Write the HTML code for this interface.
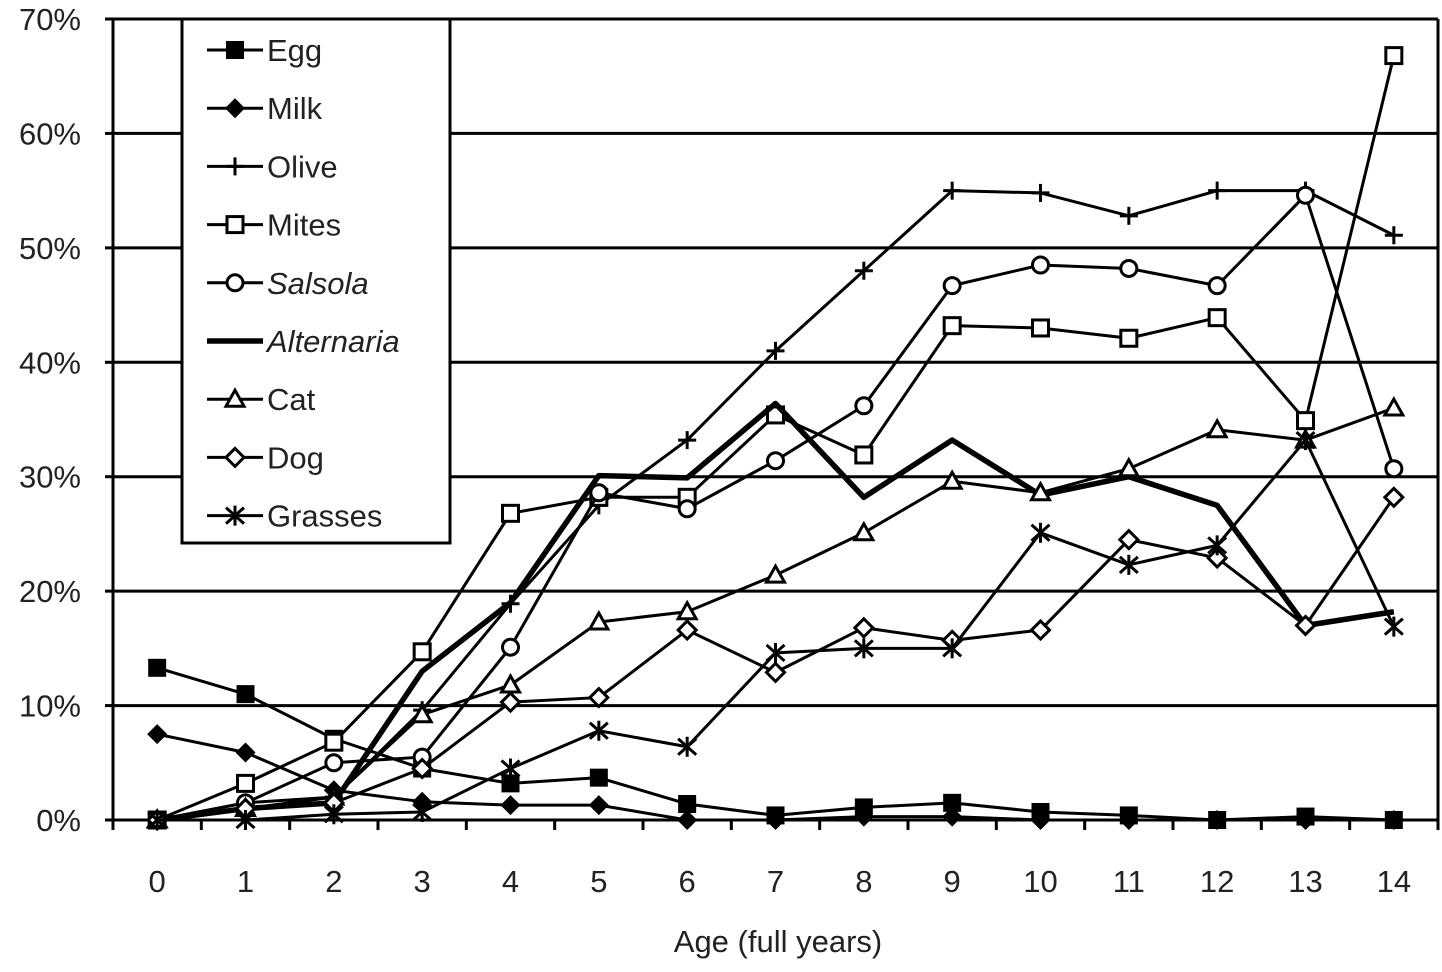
<!DOCTYPE html>
<html><head><meta charset="utf-8"><style>
html,body{margin:0;padding:0;background:#fff;width:1442px;height:972px;overflow:hidden}
svg text{font-family:"Liberation Sans",Arial,sans-serif;fill:#222}
</style></head><body>
<svg id="chart" width="1442" height="972" viewBox="0 0 1442 972" xmlns="http://www.w3.org/2000/svg"></svg>
<script>
const categories=[0,1,2,3,4,5,6,7,8,9,10,11,12,13,14];
const yTicks=[0,10,20,30,40,50,60,70];
const egg=[13.3,11,7.1,4.5,3.2,3.7,1.4,0.4,1.1,1.5,0.7,0.4,0,0.3,0];
const milk=[7.5,5.9,2.6,1.6,1.3,1.3,0,0,0.3,0.3,0,0,0,0,0];
const olive=[0,1.5,2,9.6,18.9,27.5,33.2,41,48,55,54.8,52.8,55,55,51.1];
const mites=[0,3.2,6.8,14.7,26.8,28.2,28.2,35.4,31.9,43.2,43,42.1,43.9,34.9,66.8];
const salsola=[0,1.5,5,5.5,15.1,28.6,27.2,31.4,36.2,46.7,48.5,48.2,46.7,54.6,30.7];
const alternaria=[0,1,1.5,13,19,30.1,29.9,36.4,28.2,33.2,28.4,30,27.5,17,18.2];
const cat=[0,1,2,9.2,11.8,17.3,18.2,21.4,25.1,29.6,28.6,30.7,34.1,33.2,36];
const dog=[0,1,1.5,4.5,10.3,10.7,16.6,12.9,16.8,15.7,16.6,24.5,22.9,17,28.2];
const grasses=[0,0,0.5,0.7,4.5,7.8,6.4,14.6,15,15,25.1,22.3,24,33.2,16.9];
const seriesNames=["Egg","Milk","Olive","Mites","Salsola","Alternaria","Cat","Dog","Grasses"];
const seriesData=[egg,milk,olive,mites,salsola,alternaria,cat,dog,grasses];
const markers=["fsquare","fdiamond","plus","square","circle","none","triangle","diamond","star"];

const L=113,R=1438,T=19,B=820;
const band=(R-L)/categories.length;
const xs=i=>L+band*(i+0.5);
const ys=v=>B-(v/70)*(B-T);
const svg=document.getElementById('chart');
const NS="http://www.w3.org/2000/svg";
function mk(tag,attrs,parent){const e=document.createElementNS(NS,tag);for(const k in attrs)e.setAttribute(k,attrs[k]);(parent||svg).appendChild(e);return e;}

yTicks.forEach(t=>{
  const g=mk('line',{x1:L,x2:R,y1:ys(t),y2:ys(t),stroke:'#000','stroke-width':3});
  
  
  mk('line',{x1:L-8,x2:L,y1:ys(t),y2:ys(t),stroke:'#000','stroke-width':3});
  const tx=mk('text',{x:81,y:ys(t)+11,'text-anchor':'end','font-size':31});
  tx.textContent=t+'%';
  
  
});
const ax=mk('line',{x1:L,x2:L,y1:T,y2:B,stroke:'#000','stroke-width':3});


const rx=mk('line',{x1:R,x2:R,y1:T,y2:B,stroke:'#000','stroke-width':3});


for(let i=0;i<=categories.length;i++){
  mk('line',{x1:L+band*i,x2:L+band*i,y1:B,y2:B+10,stroke:'#000','stroke-width':3});
}
categories.forEach((c,i)=>{
  const tx=mk('text',{x:xs(i),y:892,'text-anchor':'middle','font-size':31});
  tx.textContent=c;
  
  
});
const xt=mk('text',{x:778,y:952,'text-anchor':'middle','font-size':31});
xt.textContent='Age (full years)';



function marker(type,x,y,p){
  const s='#000';
  if(type==='fsquare')mk('rect',{x:x-9,y:y-9,width:18,height:18,fill:s},p);
  else if(type==='square')mk('rect',{x:x-8,y:y-8,width:16,height:16,fill:'#fff',stroke:s,'stroke-width':3},p);
  else if(type==='fdiamond')mk('polygon',{points:`${x},${y-10} ${x+10},${y} ${x},${y+10} ${x-10},${y}`,fill:s},p);
  else if(type==='diamond')mk('polygon',{points:`${x},${y-9} ${x+9},${y} ${x},${y+9} ${x-9},${y}`,fill:'#fff',stroke:s,'stroke-width':3},p);
  else if(type==='circle')mk('circle',{cx:x,cy:y,r:8,fill:'#fff',stroke:s,'stroke-width':3},p);
  else if(type==='triangle')mk('polygon',{points:`${x},${y-9} ${x+9},${y+7} ${x-9},${y+7}`,fill:'#fff',stroke:s,'stroke-width':3},p);
  else if(type==='plus'){mk('line',{x1:x-9,x2:x+9,y1:y,y2:y,stroke:s,'stroke-width':3},p);mk('line',{x1:x,x2:x,y1:y-9,y2:y+9,stroke:s,'stroke-width':3},p);}
  else if(type==='star'){mk('line',{x1:x-9,x2:x+9,y1:y-8,y2:y+8,stroke:s,'stroke-width':3},p);mk('line',{x1:x-9,x2:x+9,y1:y+8,y2:y-8,stroke:s,'stroke-width':3},p);mk('line',{x1:x,x2:x,y1:y-10,y2:y+10,stroke:s,'stroke-width':3},p);}
}

seriesData.forEach((d,si)=>{
  const g=mk('g',{});
  
  
  const pts=d.map((v,i)=>xs(i)+','+ys(v)).join(' ');
  mk('polyline',{points:pts,fill:'none',stroke:'#000','stroke-width':si===5?5.5:3,'stroke-linejoin':'round'},g);
  d.forEach((v,i)=>marker(markers[si],xs(i),ys(v),g));
});

const lg=mk('g',{});


mk('rect',{x:182,y:19,width:268,height:524,fill:'#fff',stroke:'#000','stroke-width':3},lg);
seriesNames.forEach((n,i)=>{
  const y=50+i*58.2;
  const e=mk('g',{},lg);
  
  
  mk('line',{x1:207,x2:263,y1:y,y2:y,stroke:'#000','stroke-width':i===5?5.5:3},e);
  marker(markers[i],235,y,e);
  const t=mk('text',{x:267,y:y+11,'font-size':31},e);
  t.textContent=n;
  if(n==='Salsola'||n==='Alternaria')t.setAttribute('font-style','italic');
});
</script>
</body></html>
